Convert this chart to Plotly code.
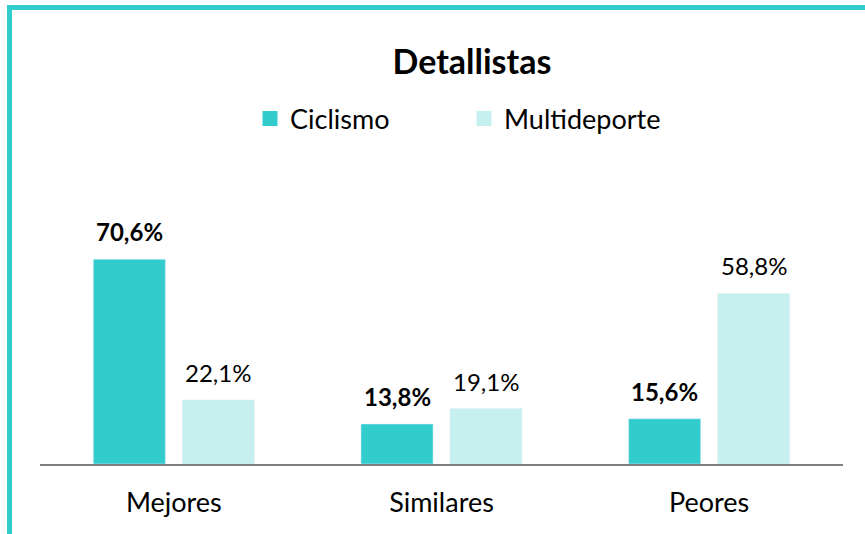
import plotly.graph_objects as go

categories = ["Mejores", "Similares", "Peores"]
ciclismo = [70.6, 13.8, 15.6]
multideporte = [22.1, 19.1, 58.8]
series_names = ["Ciclismo", "Multideporte"]
title_text = "Detallistas"

TEAL = "#33CCCC"
LIGHT = "#C6F0F0"
FONT = "Lato"

fig = go.Figure()
fig.add_trace(go.Bar(name=series_names[0], x=categories, y=ciclismo, marker_color=TEAL,
                     showlegend=False))
fig.add_trace(go.Bar(name=series_names[1], x=categories, y=multideporte, marker_color=LIGHT,
                     showlegend=False))
# legend entries with larger square symbols
for name, col in zip(series_names, [TEAL, LIGHT]):
    fig.add_trace(go.Scatter(name=name, x=[None], y=[None], mode="markers",
                             marker=dict(symbol="square", size=15, color=col),
                             showlegend=True, hoverinfo="skip"))

annotations = []
for vals, shift, bold in [(ciclismo, -44.5, True), (multideporte, 44.5, False)]:
    for c, v in zip(categories, vals):
        s = f"{v:.1f}%".replace(".", ",")
        annotations.append(dict(
            x=c, y=v, xref="x", yref="y", xshift=shift, yshift=11,
            yanchor="bottom", showarrow=False,
            text=f"<b>{s}</b>" if bold else s,
            font=dict(family=FONT, size=24, color="#000000"),
        ))

fig.update_layout(
    width=865, height=534,
    margin=dict(l=40, r=22, t=232, b=70, autoexpand=False),
    paper_bgcolor="white", plot_bgcolor="white",
    barmode="group", bargap=0.335, bargroupgap=0.19,
    title=dict(text=f"<b>{title_text}</b>", x=472/865, xanchor="center",
               y=1 - 62/534, yanchor="middle",
               font=dict(family=FONT, size=34, color="#000000")),
    legend=dict(orientation="h", x=(250-40)/803, xanchor="left",
                y=(464-119)/232, yanchor="middle",
                font=dict(family=FONT, size=27, color="#000000"),
                entrywidth=169, bgcolor="rgba(0,0,0,0)"),
    xaxis=dict(showline=True, linecolor="#808080", linewidth=2, ticks="",
               tickfont=dict(family=FONT, size=27, color="#000000"),
               ticklabelstandoff=14, showgrid=False, fixedrange=True,
               automargin=False),
    yaxis=dict(range=[0, 80], visible=False, showgrid=False, fixedrange=True,
               automargin=False),
    annotations=annotations,
    shapes=[dict(type="rect", xref="paper", yref="paper",
                 x0=(9.5-40)/803, x1=(880-40)/803,
                 y0=(464-560)/232, y1=(464-7.5)/232,
                 line=dict(color=TEAL, width=5), fillcolor="rgba(0,0,0,0)")],
)

fig.write_html("out.html", config={"displayModeBar": False},
               post_script="document.body.style.margin='0';")
